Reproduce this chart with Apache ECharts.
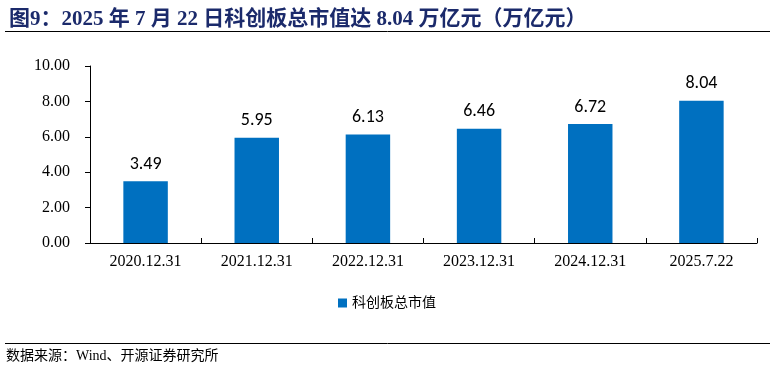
<!DOCTYPE html>
<html><head><meta charset="utf-8">
<script src="https://cdn.jsdelivr.net/npm/echarts@6/dist/echarts.min.js"></script>
<style>html,body{margin:0;padding:0;background:#fff}#c{width:774px;height:374px}</style>
</head><body><div id="c"></div>
<script>
const categories = ['2020.12.31','2021.12.31','2022.12.31','2023.12.31','2024.12.31','2025.7.22'];
const values = [3.49, 5.95, 6.13, 6.46, 6.72, 8.04];
const seriesName = '科创板总市值';
const titleText = '图9：2025 年 7 月 22 日科创板总市值达 8.04 万亿元（万亿元）';
const sourceText = '数据来源：Wind、开源证券研究所';

const serif = '"Times New Roman","Liberation Serif","Noto Sans CJK SC",serif';
const chart = echarts.init(document.getElementById('c'));
chart.setOption({
  animation: false,
  title: {text: titleText, left: 4, top: 4,
    textStyle: {fontFamily: serif, fontWeight: 'bold', fontSize: 21, color: '#1b2a6b'}},
  graphic: [
    {type: 'line', shape: {x1: 5, y1: 31.5, x2: 770, y2: 31.5}, style: {stroke: '#000', lineWidth: 1}},
    {type: 'line', shape: {x1: 5, y1: 343.5, x2: 770, y2: 343.5}, style: {stroke: '#000', lineWidth: 1}},
    {type: 'text', left: 6, top: 349, style: {text: sourceText, font: '14px ' + serif, fill: '#000'}}
  ],
  legend: {data: [seriesName], top: 291, left: 'center', itemWidth: 9, itemHeight: 9, icon: 'rect', itemGap: 4,
    textStyle: {fontFamily: serif, fontSize: 14, color: '#000'}},
  grid: {left: 90, right: 17, top: 66, bottom: 131},
  xAxis: {type: 'category', data: categories,
    axisLine: {lineStyle: {color: '#000'}},
    axisTick: {show: true, length: 5, lineStyle: {color: '#000'}, inside: true},
    axisLabel: {fontFamily: serif, fontSize: 16, color: '#000', margin: 11}},
  yAxis: {type: 'value', min: 0, max: 10, interval: 2,
    axisLine: {show: true, lineStyle: {color: '#000'}},
    axisTick: {show: true, length: 5, lineStyle: {color: '#000'}, inside: false},
    splitLine: {show: false},
    axisLabel: {fontFamily: serif, fontSize: 16, color: '#000', margin: 20, formatter: v => v.toFixed(2)}},
  series: [{name: seriesName, type: 'bar', data: values, barWidth: '40%',
    itemStyle: {color: '#0070C0'},
    label: {show: true, position: 'top', distance: 8, fontFamily: 'Carlito,"Open Sans","Noto Sans",sans-serif', fontSize: 18, color: '#000',
      formatter: p => p.value.toFixed(2)}}]
});
</script></body></html>
